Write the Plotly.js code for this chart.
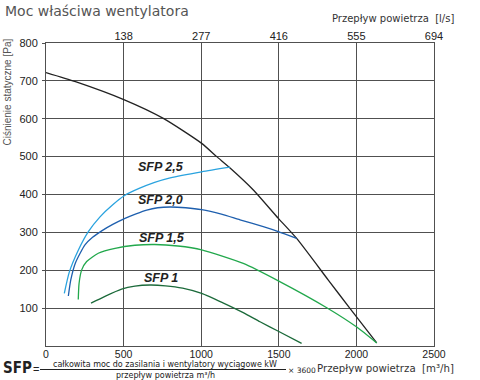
<!DOCTYPE html>
<html><head><meta charset="utf-8">
<script src="https://cdn.plot.ly/plotly-3.0.1.min.js"></script>
<style>body{margin:0;background:#fff}#c{width:480px;height:380px}</style>
</head><body><div id="c"></div>
<script>
// Fan characteristic (black curve)
var fanFlow = [0, 190, 505, 756, 1003, 1100, 1186, 1336, 1497, 1615, 1819, 1957, 2131];
var fanPress = [722, 698, 650, 601, 535, 500, 470, 412, 337, 284, 174, 100, 8];
// SFP curves
var sfp25Flow = [118, 150, 208, 273, 348, 430, 509, 600, 700, 800, 1003, 1186];
var sfp25Press = [139, 195, 253, 302, 341, 373, 398, 416, 432, 444, 460, 472];
var sfp20Flow = [144, 160, 190, 251, 300, 359, 430, 509, 580, 649, 720, 800, 900, 1003, 1130, 1250, 1400, 1497, 1615];
var sfp20Press = [132, 175, 220, 267, 287, 304, 321, 337, 349, 359, 365, 367, 365, 360, 348, 333, 315, 302, 284];
var sfp15Flow = [208, 213, 230, 262, 337, 445, 573, 700, 850, 1003, 1271, 1497, 1809, 2002, 2131];
var sfp15Press = [123, 165, 201, 223, 245, 258, 266, 268, 264, 254, 218, 172, 101, 50, 8];
var sfp10Flow = [290, 380, 487, 573, 670, 770, 880, 1003, 1140, 1271, 1379, 1497, 1647];
var sfp10Press = [113, 131, 150, 158, 161, 159, 153, 139, 114, 88, 64, 39, 7];
// Labels
var sfpNames = ['SFP 2,5', 'SFP 2,0', 'SFP 1,5', 'SFP 1'];
var sfpLabelX = [739, 739, 745, 741];
var sfpLabelY = [473, 385, 284, 180];
// Axes ticks
var bottomTicks = [0, 500, 1000, 1500, 2000, 2500];
var leftTicks = [100, 200, 300, 400, 500, 600, 700, 800];
var topTickPos = [500, 1000, 1500, 2000, 2500];
var topTickText = ['138', '277', '416', '555', '694'];

var colors = ['#2aa3df', '#1e5fae', '#22a84c', '#1b6a3a'];
function line(x, y, c) {
  return {x: x, y: y, mode: 'lines', type: 'scatter', hoverinfo: 'skip',
    line: {color: c, width: 1.3, shape: 'spline', smoothing: 0.6}, showlegend: false};
}
var data = [
  line(fanFlow, fanPress, '#222'),
  line(sfp25Flow, sfp25Press, colors[0]),
  line(sfp20Flow, sfp20Press, colors[1]),
  line(sfp15Flow, sfp15Press, colors[2]),
  line(sfp10Flow, sfp10Press, colors[3]),
  {x: [topTickPos[0]], y: [0], xaxis: 'x2', mode: 'markers', marker: {opacity: 0}, showlegend: false, hoverinfo: 'skip'}
];

function px(p) { return (p - 46) / 388; }
function py(p) { return (346 - p) / 303; }
var fSans = 'Liberation Sans, Arial, sans-serif';
var fDeja = 'DejaVu Sans, Verdana, sans-serif';
var ann = [];
for (var i = 0; i < sfpNames.length; i++) {
  ann.push({x: sfpLabelX[i], y: sfpLabelY[i], xref: 'x', yref: 'y', text: '<b><i>' + sfpNames[i] + '</i></b>',
    showarrow: false, font: {family: fSans, size: 12.5, color: '#222'}});
}
ann.push({x: px(3), y: py(11), xref: 'paper', yref: 'paper', xanchor: 'left', yanchor: 'middle',
  text: 'Moc właściwa wentylatora', showarrow: false, font: {family: fDeja, size: 14, color: '#555'}});
ann.push({x: px(456), y: py(18), xref: 'paper', yref: 'paper', xanchor: 'right', yanchor: 'middle',
  text: 'Przepływ powietrza  [l/s]', showarrow: false, font: {family: fDeja, size: 10, color: '#333'}});
ann.push({x: px(456), y: py(368), xref: 'paper', yref: 'paper', xanchor: 'right', yanchor: 'middle',
  text: 'Przepływ powietrza  [m³/h]', showarrow: false, font: {family: fDeja, size: 10.2, color: '#333'}});
ann.push({x: px(7), y: py(37), xref: 'paper', yref: 'paper', xanchor: 'center', yanchor: 'top', textangle: -90,
  text: 'Ciśnienie statyczne [Pa]', showarrow: false, font: {family: fSans, size: 10, color: '#555'}});
ann.push({x: px(1), y: py(368), xref: 'paper', yref: 'paper', xanchor: 'left', yanchor: 'middle',
  text: '<b>SFP</b>', showarrow: false, font: {family: 'DejaVu Sans Condensed, DejaVu Sans, sans-serif', size: 15, color: '#222'}});
ann.push({x: px(31), y: py(369), xref: 'paper', yref: 'paper', xanchor: 'left', yanchor: 'middle',
  text: '=', showarrow: false, font: {family: fSans, size: 11, color: '#222'}});
ann.push({x: px(165), y: py(364.5), xref: 'paper', yref: 'paper', xanchor: 'center', yanchor: 'middle',
  text: 'całkowita moc do zasilania i wentylatory wyciągowe kW', showarrow: false, font: {family: fDeja, size: 8, color: '#222'}});
ann.push({x: px(165), y: py(375.5), xref: 'paper', yref: 'paper', xanchor: 'center', yanchor: 'middle',
  text: 'przepływ powietrza m³/h', showarrow: false, font: {family: fDeja, size: 8, color: '#222'}});
ann.push({x: px(286), y: py(370), xref: 'paper', yref: 'paper', xanchor: 'left', yanchor: 'middle',
  text: '× 3600', showarrow: false, font: {family: fDeja, size: 7.5, color: '#222'}});

var layout = {
  width: 480, height: 380,
  margin: {l: 46, r: 46, t: 43, b: 34},
  paper_bgcolor: '#fff', plot_bgcolor: '#fff',
  font: {family: fSans, size: 11, color: '#222'},
  showlegend: false,
  xaxis: {range: [0, 2500], tickvals: bottomTicks, showgrid: true, gridcolor: '#505050', gridwidth: 1,
    showline: true, linecolor: '#505050', linewidth: 1, mirror: true, zeroline: false, ticks: '',
    ticklabelstandoff: -2,
    tickfont: {family: fSans, size: 10.5, color: '#222'}, fixedrange: true},
  xaxis2: {overlaying: 'x', side: 'top', range: [0, 2500], tickvals: topTickPos, ticktext: topTickText,
    showgrid: false, showline: false, zeroline: false, ticks: '', tickfont: {family: fSans, size: 11, color: '#222'}},
  yaxis: {range: [0, 800], tickvals: leftTicks, showgrid: true, gridcolor: '#505050', gridwidth: 1,
    showline: true, linecolor: '#505050', linewidth: 1, mirror: true, zeroline: false,
    ticks: 'outside', ticklen: 3, tickcolor: '#505050', ticklabelstandoff: 2,
    tickfont: {family: fSans, size: 11, color: '#222'}, fixedrange: true},
  annotations: ann,
  shapes: [{type: 'line', xref: 'paper', yref: 'paper', x0: px(40), x1: px(286), y0: py(369.5), y1: py(369.5),
    line: {color: '#222', width: 1}}]
};
Plotly.newPlot('c', data, layout, {staticPlot: true, displayModeBar: false});
</script></body></html>
